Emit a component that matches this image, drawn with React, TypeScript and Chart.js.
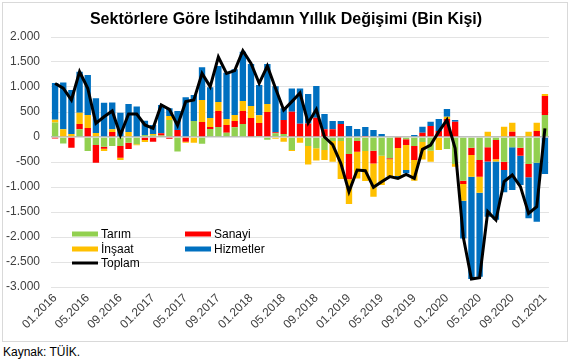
import React, { useEffect, useRef } from 'react';
import { Chart, registerables } from 'chart.js';

Chart.register(...registerables);

const TITLE = 'Sektörlere Göre İstihdamın Yıllık Değişimi (Bin Kişi)';
const SOURCE = 'Kaynak: TÜİK.';

const months: string[] = [
  '01.2016', '02.2016', '03.2016', '04.2016', '05.2016', '06.2016', '07.2016', '08.2016', '09.2016', '10.2016', '11.2016', '12.2016',
  '01.2017', '02.2017', '03.2017', '04.2017', '05.2017', '06.2017', '07.2017', '08.2017', '09.2017', '10.2017', '11.2017', '12.2017',
  '01.2018', '02.2018', '03.2018', '04.2018', '05.2018', '06.2018', '07.2018', '08.2018', '09.2018', '10.2018', '11.2018', '12.2018',
  '01.2019', '02.2019', '03.2019', '04.2019', '05.2019', '06.2019', '07.2019', '08.2019', '09.2019', '10.2019', '11.2019', '12.2019',
  '01.2020', '02.2020', '03.2020', '04.2020', '05.2020', '06.2020', '07.2020', '08.2020', '09.2020', '10.2020', '11.2020', '12.2020',
  '01.2021',
];

const tarim: number[] = [
  290, -130, -15, 155, -280, -160, -195, -180, -180, -115, -145, 40,
  35, 30, 340, -290, 0, 320, -135, 160, 200, 85, 195, 260,
  0, 20, -55, 75, 60, -260, 0, -180, -225, -260, -80, -80,
  -340, -80, -280, -275, -375, -425, -10, -45, -180, -100, -275, 0,
  -240, -540, -875, -215, -460, -205, -60, -495, -205, -215, -540, -515,
  440,
];

const sanayi: number[] = [
  -30, 0, -200, 105, 180, -355, -40, 100, -235, -125, 0, -60,
  -95, 45, -35, 140, -95, 0, 300, 40, 320, 155, 125, 260,
  380, 260, 500, 20, 280, 505, 265, 270, 385, 155, 155, 260,
  -505, -215, 20, -255, 0, -20, -210, -115, -280, 85, 220, 120,
  360, 305, -65, -145, -335, -285, -385, -165, 105, -160, -265, 120,
  380,
];

const insaat: number[] = [
  55, 155, 60, 225, 260, 80, -45, 55, -45, 100, -20, -40,
  25, 0, 80, 0, -20, -115, 440, 180, 180, 120, 120, 200,
  240, 155, 160, -35, -95, -20, -115, -370, -245, -200, -415, -760,
  -495, -535, -600, -665, -585, -345, -560, -500, -415, -350, -220, -260,
  45, -55, -335, -435, -320, 105, -45, 205, 180, 20, 105, 165,
  40,
];

const hizmetler: number[] = [
  735, 935, 880, 820, 800, 695, 685, 535, 485, 560, 610, 285,
  180, 565, 155, 380, 795, 520, 655, 615, 720, 925, 915, 985,
  840, 605, 800, 920, 235, 465, 705, 590, 635, 305, 165, 60,
  220, 160, 180, 140, 60, 0, -40, -65, 40, 120, 85, 240,
  155, 35, -755, -2045, -1680, -1105, -1165, -445, -855, -585, -820, -1180,
  -740,
];

const toplam: number[] = [
  1070, 975, 740, 1305, 975, 275, 405, 520, 40, 460, 460, 240,
  173, 640, 553, 230, 707, 740, 1273, 1007, 1600, 1273, 1327, 1727,
  1473, 1073, 1420, 973, 540, 707, 880, 280, 553, 0, -155, -527,
  -1093, -660, -673, -1007, -893, -793, -827, -747, -827, -247, -160, 107,
  340, -227, -2000, -2840, -2813, -1493, -1660, -893, -760, -993, -1527, -1393,
  173,
];

const seriesNames = ['Tarım', 'Sanayi', 'İnşaat', 'Hizmetler', 'Toplam'];
const seriesColors = ['#92D050', '#FF0000', '#FFC000', '#0070C0', '#000000'];

const FONT = '"Liberation Sans", Arial, sans-serif';

function fmt(v: number): string {
  const s = Math.abs(v).toString().replace(/\B(?=(\d{3})+(?!\d))/g, '.');
  return (v < 0 ? '-' : '') + s;
}

const overlayPlugin = {
  id: 'overlay',
  afterDraw(chart: any) {
    const ctx = chart.ctx;
    ctx.save();
    // title
    ctx.font = `bold 16px ${FONT}`;
    ctx.fillStyle = '#000';
    ctx.textAlign = 'center';
    ctx.textBaseline = 'middle';
    ctx.fillText(TITLE, 286, 20);
    // legend
    const cols = [72, 185];
    const rows = [234, 249, 263];
    ctx.font = `12px ${FONT}`;
    ctx.textAlign = 'left';
    const order = [0, 1, 2, 3, 4];
    order.forEach((si, k) => {
      const x = cols[k % 2];
      const y = rows[Math.floor(k / 2)];
      if (si === 4) {
        ctx.strokeStyle = seriesColors[si];
        ctx.lineWidth = 3;
        ctx.beginPath();
        ctx.moveTo(x, y);
        ctx.lineTo(x + 26, y);
        ctx.stroke();
      } else {
        ctx.fillStyle = seriesColors[si];
        ctx.fillRect(x, y - 2.5, 26, 5);
      }
      ctx.fillStyle = '#000';
      ctx.fillText(seriesNames[si], x + 29, y + 0.5);
    });
    ctx.restore();
  },
};

export default function App() {
  const ref = useRef<HTMLCanvasElement | null>(null);

  useEffect(() => {
    if (!ref.current) return;
    const barSeries = [tarim, sanayi, insaat, hizmetler];
    const chart = new Chart(ref.current, {
      type: 'bar',
      data: {
        labels: months,
        datasets: [
          {
            type: 'line',
            label: seriesNames[4],
            data: toplam,
            borderColor: seriesColors[4],
            backgroundColor: seriesColors[4],
            borderWidth: 3,
            pointRadius: 0,
            tension: 0,
            borderJoinStyle: 'miter',
            stack: 'total',
            order: 0,
          } as any,
          ...barSeries.map((d, i) => ({
            type: 'bar',
            label: seriesNames[i],
            data: d,
            backgroundColor: seriesColors[i],
            borderWidth: 0,
            stack: 'sectors',
            order: 1,
            categoryPercentage: 0.78,
            barPercentage: 1,
          })),
        ],
      },
      options: {
        animation: false,
        responsive: false,
        layout: { padding: { top: 37, left: 0, right: 25, bottom: 0 } },
        plugins: {
          legend: { display: false },
          title: { display: false },
          tooltip: { enabled: false },
        },
        scales: {
          x: {
            stacked: true,
            offset: true,
            grid: { display: false, drawTicks: false },
            border: { display: false },
            ticks: {
              autoSkip: false,
              maxRotation: 45,
              minRotation: 45,
              padding: 4,
              color: '#404040',
              font: { family: FONT, size: 12 },
              callback: (_v: any, i: number) => (i % 4 === 0 ? months[i] : null),
            },
            afterFit: (scale: any) => {
              scale.height = 58;
            },
          },
          y: {
            stacked: true,
            min: -3000,
            max: 2000,
            grid: {
              color: (c: any) => (c.tick && c.tick.value === 0 ? '#bfbfbf' : '#e3e3e3'),
              lineWidth: (c: any) => (c.tick && c.tick.value === 0 ? 1.5 : 1),
              drawTicks: false,
            },
            border: { display: false },
            ticks: {
              stepSize: 500,
              padding: 11,
              color: '#404040',
              font: { family: FONT, size: 12 },
              callback: (v: any) => fmt(Number(v)),
            },
            afterFit: (scale: any) => {
              scale.width = 51;
            },
          },
        },
      } as any,
      plugins: [overlayPlugin],
    });
    return () => chart.destroy();
  }, []);

  return (
    <div style={{ position: 'absolute', left: 0, top: 0, width: 574, height: 363, background: '#fff', fontFamily: FONT }}>
      <div style={{ position: 'absolute', left: 2, top: 2, width: 566, height: 340, border: '1px solid #d9d9d9', boxSizing: 'border-box' }} />
      <canvas ref={ref} width={574} height={345} style={{ position: 'absolute', left: 0, top: 0 }} />
      <div style={{ position: 'absolute', left: 3, top: 345, fontSize: 12, color: '#000', whiteSpace: 'nowrap' }}>{SOURCE}</div>
    </div>
  );
}
